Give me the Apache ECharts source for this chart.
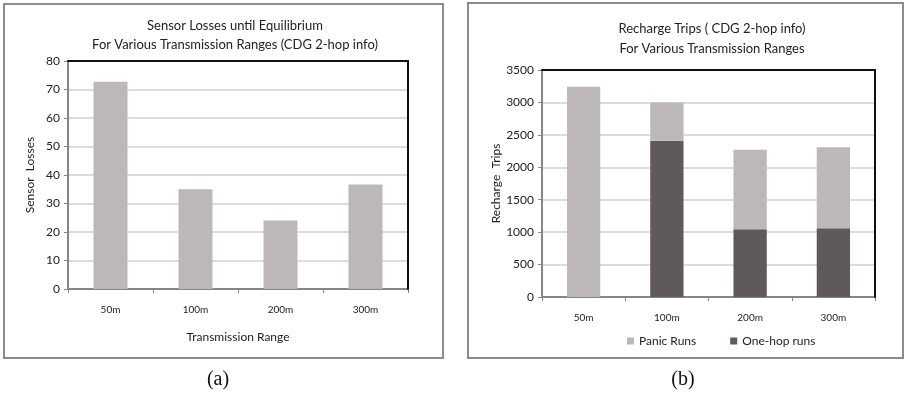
<!DOCTYPE html>
<html>
<head>
<meta charset="utf-8">
<script src="https://cdn.jsdelivr.net/npm/echarts@6/dist/echarts.min.js"></script>
<style>
  html, body { margin: 0; padding: 0; background: #fff; }
  #chart { width: 906px; height: 397px; }
</style>
</head>
<body>
<div id="chart"></div>
<script>
// Transmission ranges shared by both panels
const ranges = ['50m', '100m', '200m', '300m'];

// Panel (a): sensor losses until equilibrium
const sensorLosses = [72.7, 35, 24, 36.7];
const lossTicks = { min: 0, max: 80, interval: 10 };

// Panel (b): recharge trips, stacked
const oneHopRuns = [0, 2410, 1045, 1060];
const panicRuns = [3240, 590, 1225, 1250];
const tripTicks = { min: 0, max: 3500, interval: 500 };

const FONT = 'Lato, "Open Sans", sans-serif';
const LIGHT = '#bcb8b7';
const DARK = '#5f5a59';
const AXIS_GREY = '#868686';
const FRAME_BLACK = '#111';

function valueAxis(gridIndex, ticks, name, nameGap) {
  return {
    type: 'value', gridIndex: gridIndex,
    min: ticks.min, max: ticks.max, interval: ticks.interval,
    name: name, nameLocation: 'middle', nameGap: nameGap,
    nameTextStyle: { fontFamily: FONT, fontSize: 12, color: '#222' },
    axisLine: { show: true, lineStyle: { color: AXIS_GREY, width: 2 } },
    axisTick: { show: true, length: 4, lineStyle: { color: AXIS_GREY } },
    axisLabel: { fontFamily: FONT, fontSize: 12, color: '#222', margin: 8,
      formatter: function (v) { return String(v); } },
    splitLine: { lineStyle: { color: '#dcdcdc', width: 2 } },
    z: 2
  };
}

function categoryAxis(gridIndex, name, nameGap) {
  return {
    type: 'category', gridIndex: gridIndex, data: ranges,
    name: name, nameLocation: 'middle', nameGap: nameGap,
    nameTextStyle: { fontFamily: FONT, fontSize: 12, color: '#222' },
    axisLine: { show: true, lineStyle: { color: AXIS_GREY, width: 2 } },
    axisTick: { show: true, length: 4, lineStyle: { color: AXIS_GREY } },
    axisLabel: { fontFamily: FONT, fontSize: 10, color: '#222', margin: 16 },
    z: 2
  };
}

// Dark frame lines along the top and right edges of each plot area
function frameX(gridIndex) {
  return {
    type: 'category', gridIndex: gridIndex, position: 'top', data: ranges,
    axisLine: { show: true, onZero: false, lineStyle: { color: FRAME_BLACK, width: 2 } },
    axisTick: { show: false }, axisLabel: { show: false }, splitLine: { show: false },
    z: 5
  };
}
function frameY(gridIndex, ticks) {
  return {
    type: 'value', gridIndex: gridIndex, position: 'right',
    min: ticks.min, max: ticks.max, interval: ticks.interval,
    axisLine: { show: true, onZero: false, lineStyle: { color: FRAME_BLACK, width: 2 } },
    axisTick: { show: false }, axisLabel: { show: false }, splitLine: { show: false },
    z: 5
  };
}

const chart = echarts.init(document.getElementById('chart'), null, { renderer: 'canvas' });

chart.setOption({
  backgroundColor: '#fff',
  animation: false,
  title: [
    {
      text: 'Sensor Losses until Equilibrium\nFor Various Transmission Ranges (CDG 2-hop info)',
      left: 230, top: 11, textAlign: 'center',
      textStyle: { fontFamily: FONT, fontSize: 13, fontWeight: 'normal', color: '#222', lineHeight: 19 }
    },
    {
      text: 'Recharge Trips ( CDG 2-hop info)\nFor Various Transmission Ranges',
      left: 707, top: 14, textAlign: 'center',
      textStyle: { fontFamily: FONT, fontSize: 13, fontWeight: 'normal', color: '#222', lineHeight: 20 }
    }
  ],
  legend: {
    data: ['Panic Runs', 'One-hop runs'],
    left: 622, top: 330,
    itemWidth: 7, itemHeight: 7, itemGap: 34,
    icon: 'rect',
    textStyle: { fontFamily: FONT, fontSize: 12, color: '#222' }
  },
  grid: [
    { left: 68, right: 498, top: 61, bottom: 108 },
    { left: 542, right: 31, top: 70, bottom: 100 }
  ],
  xAxis: [
    categoryAxis(0, 'Transmission Range', 42),
    categoryAxis(1, '', 0),
    frameX(0),
    frameX(1)
  ],
  yAxis: [
    valueAxis(0, lossTicks, 'Sensor  Losses', 32),
    valueAxis(1, tripTicks, 'Recharge  Trips', 33),
    frameY(0, lossTicks),
    frameY(1, tripTicks)
  ],
  series: [
    {
      name: 'Sensor Losses', type: 'bar', xAxisIndex: 0, yAxisIndex: 0,
      data: sensorLosses, barWidth: '40%',
      itemStyle: { color: LIGHT }
    },
    {
      name: 'One-hop runs', type: 'bar', xAxisIndex: 1, yAxisIndex: 1,
      stack: 'trips', data: oneHopRuns, barWidth: '40%',
      itemStyle: { color: DARK }
    },
    {
      name: 'Panic Runs', type: 'bar', xAxisIndex: 1, yAxisIndex: 1,
      stack: 'trips', data: panicRuns, barWidth: '40%',
      itemStyle: { color: LIGHT }
    }
  ],
  graphic: [
    { type: 'rect', shape: { x: 4, y: 4, width: 439, height: 354 },
      style: { fill: 'none', stroke: '#8c8c8c', lineWidth: 2 }, silent: true },
    { type: 'rect', shape: { x: 468, y: 3, width: 435, height: 355 },
      style: { fill: 'none', stroke: '#8c8c8c', lineWidth: 2 }, silent: true },
    { type: 'text', x: 218, y: 380,
      style: { text: '(a)', font: '20px "Liberation Serif", serif', fill: '#111', textAlign: 'center', textVerticalAlign: 'middle' } },
    { type: 'text', x: 683, y: 380,
      style: { text: '(b)', font: '20px "Liberation Serif", serif', fill: '#111', textAlign: 'center', textVerticalAlign: 'middle' } }
  ]
});
</script>
</body>
</html>
